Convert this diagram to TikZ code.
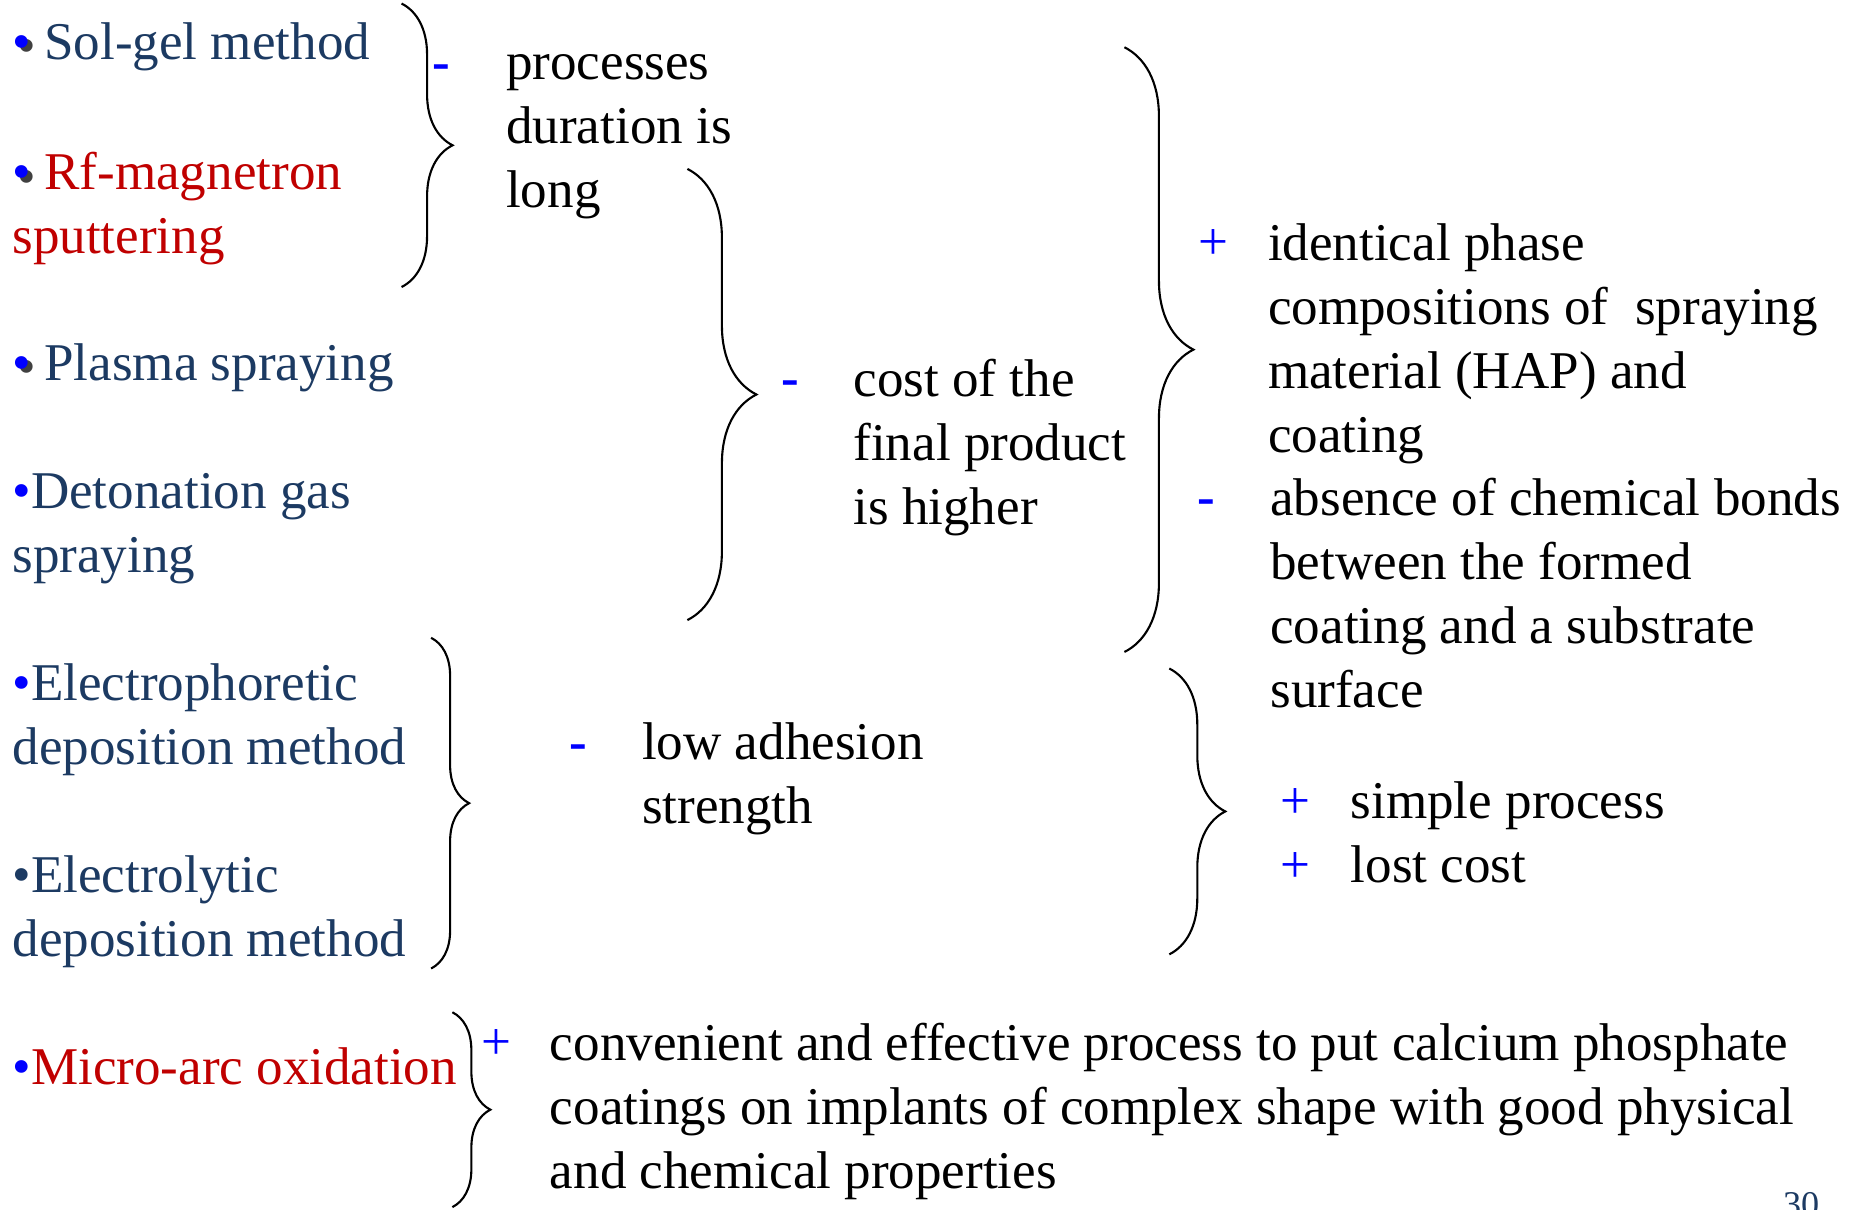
\documentclass[tikz,border=0pt]{standalone}
\usepackage{fontspec}
\setmainfont{Liberation Serif}
\usetikzlibrary{decorations.pathreplacing}

\definecolor{methodblue}{RGB}{28,58,98}
\definecolor{methodred}{RGB}{192,0,0}
\definecolor{markblue}{RGB}{0,0,255}

\newcommand{\blt}{\textcolor{markblue}{•}}
\newcommand{\sblt}{\makebox[0pt][l]{\hspace{1.3pt}\raisebox{-1.3pt}{\textcolor{black!75}{•}}}\textcolor{markblue}{•}}

\begin{document}
\begin{tikzpicture}[x=0.01181cm, y=-0.01181cm,
        txt/.style={anchor=base west, inner sep=0pt, align=left,
            font=\fontsize{15.1pt}{18.2pt}\selectfont},
        method/.style={txt, text=methodblue},
        sign/.style={anchor=base, inner sep=0pt, text=markblue,
            font=\fontsize{15.1pt}{18.2pt}\selectfont},
        brc/.style={decorate, decoration={brace, amplitude=#1}, line width=0.6pt}]
        \useasboundingbox (0,0) rectangle (1568,1024);
        %\draw[gray, dashed, step=100] (0,0) grid (1568,1024);

        % methods (multi-line nodes sit on the baseline of their last line)
        \node[method] (sol) at (10,50) {\sblt\ Sol-gel method};
        \node[method, text=methodred] (rf) at (10,215) {\sblt\ Rf-magnetron\\sputtering};
        \node[method] (plasma) at (10,322) {\sblt\ Plasma spraying};
        \node[method] (deton) at (10,485) {\blt Detonation gas\\spraying};
        \node[method] (ephor) at (10,647) {\blt Electrophoretic\\deposition method};
        \node[method] (elyt) at (10,810) {•Electrolytic\\deposition method};
        \node[method, text=methodred] (mao) at (10,918) {\blt Micro-arc oxidation};

        % braces
        \coordinate (b1t) at (340,3);   \coordinate (b1b) at (340,243);
        \coordinate (b2t) at (582,143); \coordinate (b2b) at (582,525);
        \coordinate (b3t) at (952,40);  \coordinate (b3b) at (952,552);
        \coordinate (b4t) at (365,540); \coordinate (b4b) at (365,820);
        \coordinate (b5t) at (990,566); \coordinate (b5b) at (990,808);
        \coordinate (b6t) at (383,857); \coordinate (b6b) at (383,1022);
        \draw[brc=0.51cm] (b1t) -- (b1b);
        \draw[brc=0.69cm] (b2t) -- (b2b);
        \draw[brc=0.69cm] (b3t) -- (b3b);
        \draw[brc=0.38cm] (b4t) -- (b4b);
        \draw[brc=0.56cm] (b5t) -- (b5b);
        \draw[brc=0.38cm] (b6t) -- (b6b);

        % pros and cons
        \node[sign] (s1) at (374,67) {\textbf{-}};
        \node[txt] (dur) at (428,176) {processes\\duration is\\long};

        \node[sign] (s2) at (669,335) {\textbf{-}};
        \node[txt] (cost) at (722,444) {cost of the\\final product\\is higher};

        \node[sign] (s3) at (1027,220) {+};
        \node[txt] (phase) at (1073,383) {identical phase\\compositions of\ \ spraying\\material (HAP) and\\coating};
        \node[sign] (s4) at (1021,436) {\textbf{-}};
        \node[txt] (bonds) at (1075,599) {absence of chemical bonds\\between the formed\\coating and a substrate\\surface};

        \node[sign] (s5) at (490,643) {\textbf{-}};
        \node[txt] (adh) at (543,697) {low adhesion\\strength};

        \node[sign] (s6) at (1097,693) {+};
        \node[txt] (simple) at (1143,693) {simple process};
        \node[sign] (s7) at (1097,747) {+};
        \node[txt] (lost) at (1143,747) {lost cost};

        \node[sign] (s8) at (420,897) {+};
        \node[txt] (conv) at (465,1006) {convenient and effective process to put calcium phosphate\\coatings on implants of complex shape with good physical\\and chemical properties};

        \node[txt, text=methodblue, font=\fontsize{10.3pt}{12pt}\selectfont] (page) at (1509,1030) {30};
\end{tikzpicture}
\end{document}
